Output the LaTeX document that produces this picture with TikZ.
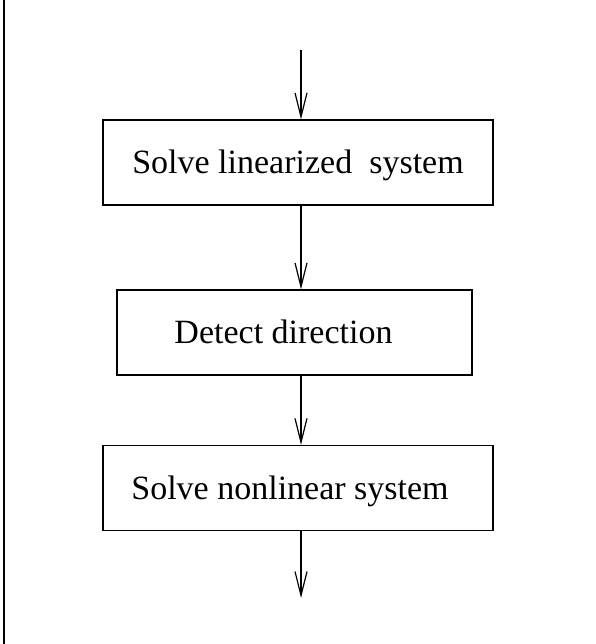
\documentclass[tikz,border=0pt]{standalone}
\usepackage{fontspec}
\setmainfont{Liberation Serif}
\usetikzlibrary{positioning, arrows.meta}
\tikzset{stepbox/.style={
    rectangle,
    draw,
    line width=1.3pt,
    minimum height=85pt,
    inner sep=0pt,
    text height=22pt,
    text depth=0pt,
    font=\fontsize{34}{40}\selectfont
}}
\tikzset{flow/.style={
    line width=1.2pt,
    -{Straight Barb[length=24pt, width=12pt]}
}}

\begin{document}
\begin{tikzpicture}[x=1pt, y=-1pt]
    \useasboundingbox (0,0) rectangle (595,644);
    % frame edge on the left
    \draw [line width=1.5pt] (4,0) -- (4,644);
    % boxes
    \node (linear)    [stepbox, minimum width=390pt] at (298,162.5) {Solve linearized\ \ system};
    \node (direction) [stepbox, minimum width=355pt] at (294.5,332.5) {Detect direction\kern22pt};
    \node (nonlinear) [stepbox, minimum width=390pt] at (298,488) {Solve nonlinear system\kern16pt};
    \coordinate (in)  at (301,50);
    \coordinate (out) at (301,598);
    % arrows
    \draw [flow] (in) -- (linear.north -| in);
    \draw [flow] (linear.south -| in) -- (direction.north -| in);
    \draw [flow] (direction.south -| in) -- (nonlinear.north -| in);
    \draw [flow] (nonlinear.south -| in) -- (out);
\end{tikzpicture}
\end{document}
